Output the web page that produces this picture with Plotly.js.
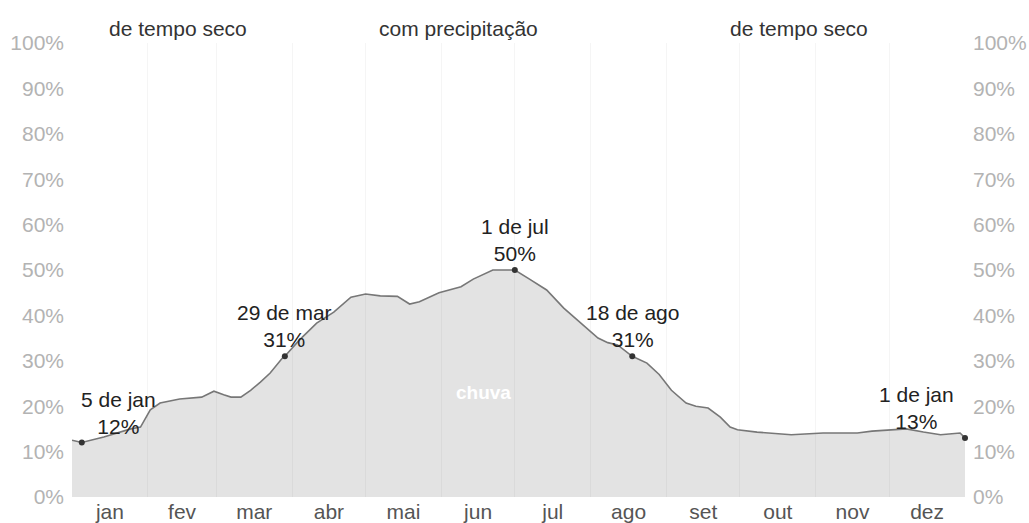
<!DOCTYPE html>
<html><head><meta charset="utf-8">
<script src="https://cdn.plot.ly/plotly-3.0.1.min.js"></script>
<style>html,body{margin:0;padding:0;background:#fff;}#chart{width:1029px;height:523px;}</style>
</head><body><div id="chart"></div>
<script>
// ---- data ----
const monthNames = ['jan','fev','mar','abr','mai','jun','jul','ago','set','out','nov','dez'];
const monthLengths = [31,28,31,30,31,30,31,31,30,31,30,31];
const dayOfYear = [0,4,13,24,28,32,36,44,53,58,62,65,69,73,77,81,86,87,93,100,107,114,120,126,133,138,142,150,159,164,172,181,187,194,201,208,215,219,223,229,235,240,245,251,255,260,265,269,272,280,294,307,321,327,334,341,348,355,363,365];
const rainChance = [12.5,12,13.2,15,15.4,19.2,20.7,21.6,22,23.3,22.5,22,22,23.5,25.3,27.3,30.6,31,34.6,38.3,40.7,44,44.7,44.3,44.2,42.5,43,45,46.3,48,50,50,48,45.6,41.6,38.3,35,34,33.5,31,29.5,27,23.5,20.7,20,19.6,17.6,15.4,14.8,14.3,13.7,14.1,14.1,14.5,14.8,15,14.3,13.7,14.1,13];
const keyDays = [4,87,181,229,365];
const keyValues = [12,31,50,31,13];
const keyDates = ['5 de jan','29 de mar','1 de jul','18 de ago','1 de jan'];
const seasonLabels = ['de tempo seco','com precipitação','de tempo seco'];
const seriesLabel = 'chuva';
const percentTicks = [0,10,20,30,40,50,60,70,80,90,100];

// ---- derived ----
const monthStarts = [];
const monthMids = [];
let acc = 0;
monthLengths.forEach(len => { monthStarts.push(acc); monthMids.push(acc + len / 2); acc += len; });
const yearEnd = acc;
const percentText = percentTicks.map(v => v + '%');

const fam = 'Liberation Sans, Arial, sans-serif';

const traces = [
  {x: dayOfYear, y: rainChance, type: 'scatter', mode: 'lines', fill: 'tozeroy',
   fillcolor: 'rgba(0,0,0,0.11)', line: {color: '#777', width: 1.6}, hoverinfo: 'skip', showlegend: false},
  {x: keyDays, y: keyValues, type: 'scatter', mode: 'markers', cliponaxis: false,
   marker: {color: '#333', size: 6}, hoverinfo: 'skip', showlegend: false},
  {x: dayOfYear, y: rainChance, type: 'scatter', mode: 'lines', yaxis: 'y2',
   line: {color: 'rgba(0,0,0,0)', width: 0}, hoverinfo: 'skip', showlegend: false}
];

const annotations = [];
keyDays.forEach((d, i) => {
  const last = i === keyDays.length - 1;
  annotations.push({
    x: d, y: keyValues[i], xref: 'x', yref: 'y', showarrow: false,
    text: keyDates[i] + '<br>' + keyValues[i] + '%',
    xanchor: i === 0 ? 'left' : (last ? 'right' : 'center'),
    xshift: i === 0 ? -3 : (last ? -9 : 0),
    yanchor: 'bottom', yshift: 3, align: 'center',
    font: {family: fam, size: 21, color: '#222'}
  });
});
const seasonBounds = [0, keyDays[1], keyDays[3], yearEnd];
seasonLabels.forEach((s, i) => {
  annotations.push({
    x: (seasonBounds[i] + seasonBounds[i + 1]) / 2, y: 1, xref: 'x', yref: 'paper',
    showarrow: false, text: s, xanchor: 'center', yanchor: 'bottom', yshift: 1,
    font: {family: fam, size: 21, color: '#333'}
  });
});
annotations.push({
  x: 168, y: 23, xref: 'x', yref: 'y', showarrow: false, text: '<b>' + seriesLabel + '</b>',
  font: {family: fam, size: 19, color: '#fff'}
});

const yAxisBase = {
  range: [0, 100], tickmode: 'array', tickvals: percentTicks, ticktext: percentText,
  showgrid: false, zeroline: false, showline: false, ticks: '', fixedrange: true,
  ticklabelstandoff: 7,
  tickfont: {family: fam, size: 21, color: '#b3b3b3'}
};

const layout = {
  width: 1029, height: 523, autosize: false,
  margin: {l: 72, r: 64, t: 43, b: 26, pad: 0},
  paper_bgcolor: '#fff', plot_bgcolor: '#fff',
  showlegend: false,
  xaxis: {
    range: [0, yearEnd], tickmode: 'array', tickvals: monthMids, ticktext: monthNames,
    showgrid: false, zeroline: false, showline: false, ticks: '', fixedrange: true,
    tickfont: {family: fam, size: 21, color: '#555'},
    minor: {tickmode: 'array', tickvals: monthStarts.slice(1), showgrid: true,
            gridcolor: 'rgba(0,0,0,0.04)', gridwidth: 1, ticks: ''}
  },
  yaxis: Object.assign({}, yAxisBase, {side: 'left'}),
  yaxis2: Object.assign({}, yAxisBase, {side: 'right', overlaying: 'y'}),
  annotations: annotations
};

Plotly.newPlot('chart', traces, layout, {displayModeBar: false, staticPlot: true});
</script>
</body></html>
